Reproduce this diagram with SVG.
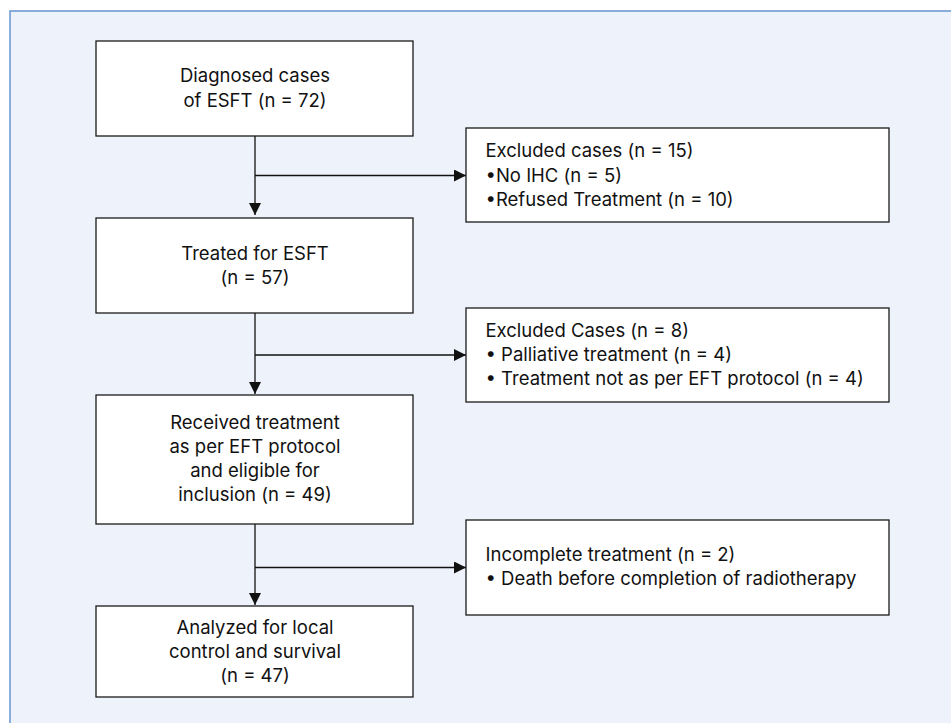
<svg xmlns="http://www.w3.org/2000/svg" width="951" height="723" viewBox="0 0 951 723">
<style>
.box{fill:#fff;stroke:#1a1a1a;stroke-width:1.3}
.t{font-family:Inter,"Open Sans","Liberation Sans",Arial,sans-serif;font-size:18.5px;fill:#111}
.c{text-anchor:middle}
.ln{stroke:#111;stroke-width:1.3;fill:none}
</style>
<defs>
<marker id="ah" markerWidth="12" markerHeight="12" refX="12" refY="6" orient="auto" markerUnits="userSpaceOnUse">
<path d="M0,0 L12,6 L0,12 Z" fill="#111"/>
</marker>
</defs>
<rect x="10" y="11" width="950" height="720" fill="#eef2fa" stroke="#6f9bd4" stroke-width="1.6"/>
<g id="connectors">
<path class="ln" d="M255,136 V215" marker-end="url(#ah)"/>
<path class="ln" d="M255,175.5 H466" marker-end="url(#ah)"/>
<path class="ln" d="M255,313 V394" marker-end="url(#ah)"/>
<path class="ln" d="M255,355 H466" marker-end="url(#ah)"/>
<path class="ln" d="M255,524 V605" marker-end="url(#ah)"/>
<path class="ln" d="M255,567.5 H466" marker-end="url(#ah)"/>
</g>
<g id="n1">
<rect class="box" x="96" y="41" width="317" height="95"/>
<text class="t c" x="255" y="82">Diagnosed cases</text>
<text class="t c" x="255" y="107">of ESFT (n = 72)</text>
</g>
<g id="n2">
<rect class="box" x="96" y="218" width="317" height="95"/>
<text class="t c" x="255" y="260">Treated for ESFT</text>
<text class="t c" x="255" y="284">(n = 57)</text>
</g>
<g id="n3">
<rect class="box" x="96" y="395" width="317" height="129"/>
<text class="t c" x="255" y="429">Received treatment</text>
<text class="t c" x="255" y="453">as per EFT protocol</text>
<text class="t c" x="255" y="477">and eligible for</text>
<text class="t c" x="255" y="501">inclusion (n = 49)</text>
</g>
<g id="n4">
<rect class="box" x="96" y="606" width="317" height="91"/>
<text class="t c" x="255" y="634">Analyzed for local</text>
<text class="t c" x="255" y="658">control and survival</text>
<text class="t c" x="255" y="682">(n = 47)</text>
</g>
<g id="e1">
<rect class="box" x="466" y="128" width="423" height="94"/>
<text class="t" x="485.5" y="157">Excluded cases (n = 15)</text>
<text class="t" x="485.5" y="181.5">•No IHC (n = 5)</text>
<text class="t" x="485.5" y="206">•Refused Treatment (n = 10)</text>
</g>
<g id="e2">
<rect class="box" x="466" y="308" width="423" height="94"/>
<text class="t" x="485.5" y="337">Excluded Cases (n = 8)</text>
<text class="t" x="485.5" y="361">• Palliative treatment (n = 4)</text>
<text class="t" x="485.5" y="385">• Treatment not as per EFT protocol (n = 4)</text>
</g>
<g id="e3">
<rect class="box" x="466" y="520" width="423" height="95"/>
<text class="t" x="485.5" y="561">Incomplete treatment (n = 2)</text>
<text class="t" x="485.5" y="585">• Death before completion of radiotherapy</text>
</g>
</svg>
